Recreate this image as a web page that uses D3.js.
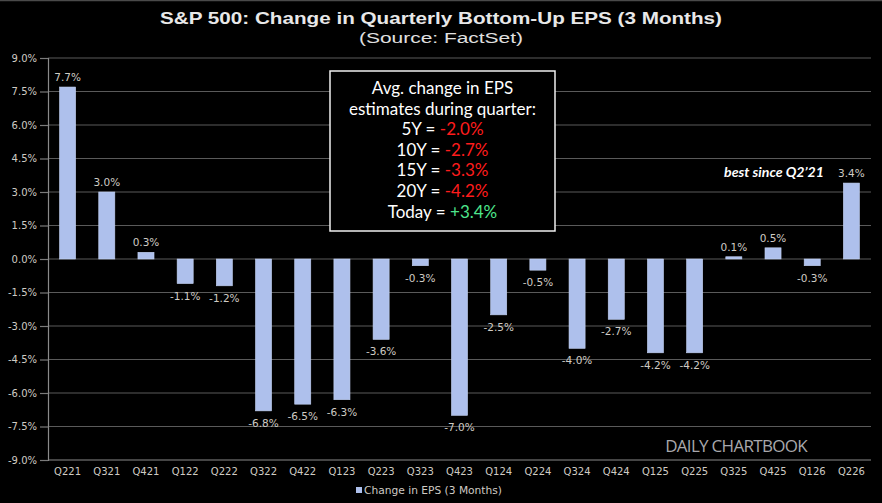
<!DOCTYPE html>
<html>
<head>
<meta charset="utf-8">
<script src="https://cdn.jsdelivr.net/npm/d3@7/dist/d3.min.js"></script>
<style>
  html, body { margin: 0; padding: 0; background: #000; }
  svg { display: block; }
  .tick text { fill: #cfcbc4; font-family: "DejaVu Sans", sans-serif; font-size: 10px; }
</style>
</head>
<body>
<script>
// chart data
const quarters = ['Q221', 'Q321', 'Q421', 'Q122', 'Q222', 'Q322', 'Q422', 'Q123', 'Q223', 'Q323', 'Q423',
  'Q124', 'Q224', 'Q324', 'Q424', 'Q125', 'Q225', 'Q325', 'Q425', 'Q126', 'Q226'];
const epsChange = [7.7, 3.0, 0.3, -1.1, -1.2, -6.8, -6.5, -6.3, -3.6, -0.3, -7.0,
  -2.5, -0.5, -4.0, -2.7, -4.2, -4.2, 0.1, 0.5, -0.3, 3.4];
const yTicks = [9, 7.5, 6, 4.5, 3, 1.5, 0, -1.5, -3, -4.5, -6, -7.5, -9];
const boxLines = [
  ['Avg. change in EPS', ''],
  ['estimates during quarter:', ''],
  ['5Y = ', '-2.0%'],
  ['10Y = ', '-2.7%'],
  ['15Y = ', '-3.3%'],
  ['20Y = ', '-4.2%'],
  ['Today = ', '+3.4%']
];

const W = 882, H = 503;
const plotL = 48, plotR = 871, plotT = 58, plotB = 460;

const svg = d3.select('body').append('svg')
  .attr('width', W)
  .attr('height', H);

svg.append('rect').attr('width', W).attr('height', H).attr('fill', '#000');
svg.append('line').attr('x1', 0).attr('x2', W).attr('y1', 0.5).attr('y2', 0.5)
  .attr('stroke', '#4a4a4a').attr('stroke-width', 1.5);

const x = d3.scaleBand().domain(quarters).range([plotL, plotR]).paddingInner(0.59).paddingOuter(0.295);
const y = d3.scaleLinear().domain([-9, 9]).range([plotB, plotT]);

// gridlines
svg.append('g')
  .selectAll('line')
  .data(yTicks)
  .enter()
  .append('line')
  .attr('x1', plotL).attr('x2', plotR)
  .attr('y1', d => y(d)).attr('y2', d => y(d))
  .attr('stroke', d => d === -9 ? '#8a8a8a' : '#5a5a5a')
  .attr('stroke-width', 1.2);

// y axis
const yAxis = svg.append('g')
  .attr('transform', `translate(${plotL}, 0)`)
  .call(d3.axisLeft(y).tickValues(yTicks).tickSize(8).tickPadding(3)
    .tickFormat(d => d.toFixed(1) + '%'));
yAxis.select('.domain').attr('stroke', '#8a8a8a').attr('stroke-width', 1.2);
yAxis.selectAll('.tick line').attr('stroke', '#7a7a7a').attr('stroke-width', 1.2);

// x axis
const xAxis = svg.append('g')
  .attr('transform', `translate(0, ${plotB})`)
  .call(d3.axisBottom(x).tickSize(0).tickPadding(8));
xAxis.select('.domain').remove();

// bars
svg.append('g')
  .selectAll('rect')
  .data(epsChange)
  .enter()
  .append('rect')
  .attr('x', (d, i) => x(quarters[i]))
  .attr('width', x.bandwidth())
  .attr('y', d => y(Math.max(0, d)))
  .attr('height', d => Math.abs(y(d) - y(0)))
  .attr('fill', '#aec0ec')
  .attr('stroke', '#c4d2f4')
  .attr('stroke-width', 0.6);

// value labels
svg.append('g')
  .selectAll('text')
  .data(epsChange)
  .enter()
  .append('text')
  .attr('x', (d, i) => x(quarters[i]) + x.bandwidth() / 2)
  .attr('y', d => d >= 0 ? y(d) - 6 : y(d) + 16)
  .attr('text-anchor', 'middle')
  .attr('fill', '#cfcbc4')
  .attr('font-family', '"DejaVu Sans", sans-serif')
  .attr('font-size', 10.5)
  .text(d => d.toFixed(1) + '%');

// title
svg.append('text')
  .attr('x', 441).attr('y', 24)
  .attr('text-anchor', 'middle')
  .attr('fill', '#e8e8e8')
  .attr('font-family', '"Liberation Sans", Arial, sans-serif')
  .attr('font-weight', 'bold')
  .attr('font-size', 17)
  .attr('textLength', 562)
  .attr('lengthAdjust', 'spacingAndGlyphs')
  .text('S&P 500: Change in Quarterly Bottom-Up EPS (3 Months)');

svg.append('text')
  .attr('x', 441).attr('y', 43)
  .attr('text-anchor', 'middle')
  .attr('fill', '#e0e0e0')
  .attr('font-family', '"Liberation Sans", Arial, sans-serif')
  .attr('font-size', 15.5)
  .attr('textLength', 164)
  .attr('lengthAdjust', 'spacingAndGlyphs')
  .text('(Source: FactSet)');

// stats box
svg.append('rect')
  .attr('x', 330).attr('y', 71)
  .attr('width', 225).attr('height', 160)
  .attr('fill', '#000')
  .attr('stroke', '#f0f0f0')
  .attr('stroke-width', 1.5);

const boxText = svg.append('g');
boxLines.forEach((ln, i) => {
  const t = boxText.append('text')
    .attr('x', 442.5).attr('y', 94 + i * 20.6)
    .attr('text-anchor', 'middle')
    .attr('font-family', 'Lato, "Open Sans", sans-serif')
    .attr('font-size', 17)
    .attr('fill', '#ffffff');
  t.append('tspan').text(ln[0]);
  if (ln[1]) {
    t.append('tspan')
      .attr('fill', ln[1][0] === '+' ? '#4ee58c' : '#ff1c1c')
      .text(ln[1]);
  }
});

// annotation
svg.append('text')
  .attr('x', 824).attr('y', 177)
  .attr('text-anchor', 'end')
  .attr('fill', '#ffffff')
  .attr('font-family', 'Lato, "Open Sans", sans-serif')
  .attr('font-weight', 'bold')
  .attr('font-style', 'italic')
  .attr('font-size', 13.5)
  .attr('textLength', 100)
  .attr('lengthAdjust', 'spacingAndGlyphs')
  .text('best since Q2\u201921');

// watermark
svg.append('text')
  .attr('x', 807).attr('y', 452)
  .attr('text-anchor', 'end')
  .attr('fill', '#a8a8ac')
  .attr('font-family', '"Open Sans", Lato, sans-serif')
  .attr('font-size', 17)
  .attr('letter-spacing', -0.7)
  .text('DAILY CHARTBOOK');

// legend
svg.append('rect')
  .attr('x', 356).attr('y', 487)
  .attr('width', 6).attr('height', 6)
  .attr('fill', '#aec0ec');
svg.append('text')
  .attr('x', 364).attr('y', 494)
  .attr('fill', '#cfcbc4')
  .attr('font-family', '"DejaVu Sans", sans-serif')
  .attr('font-size', 10)
  .attr('textLength', 138)
  .attr('lengthAdjust', 'spacingAndGlyphs')
  .text('Change in EPS (3 Months)');
</script>
</body>
</html>
